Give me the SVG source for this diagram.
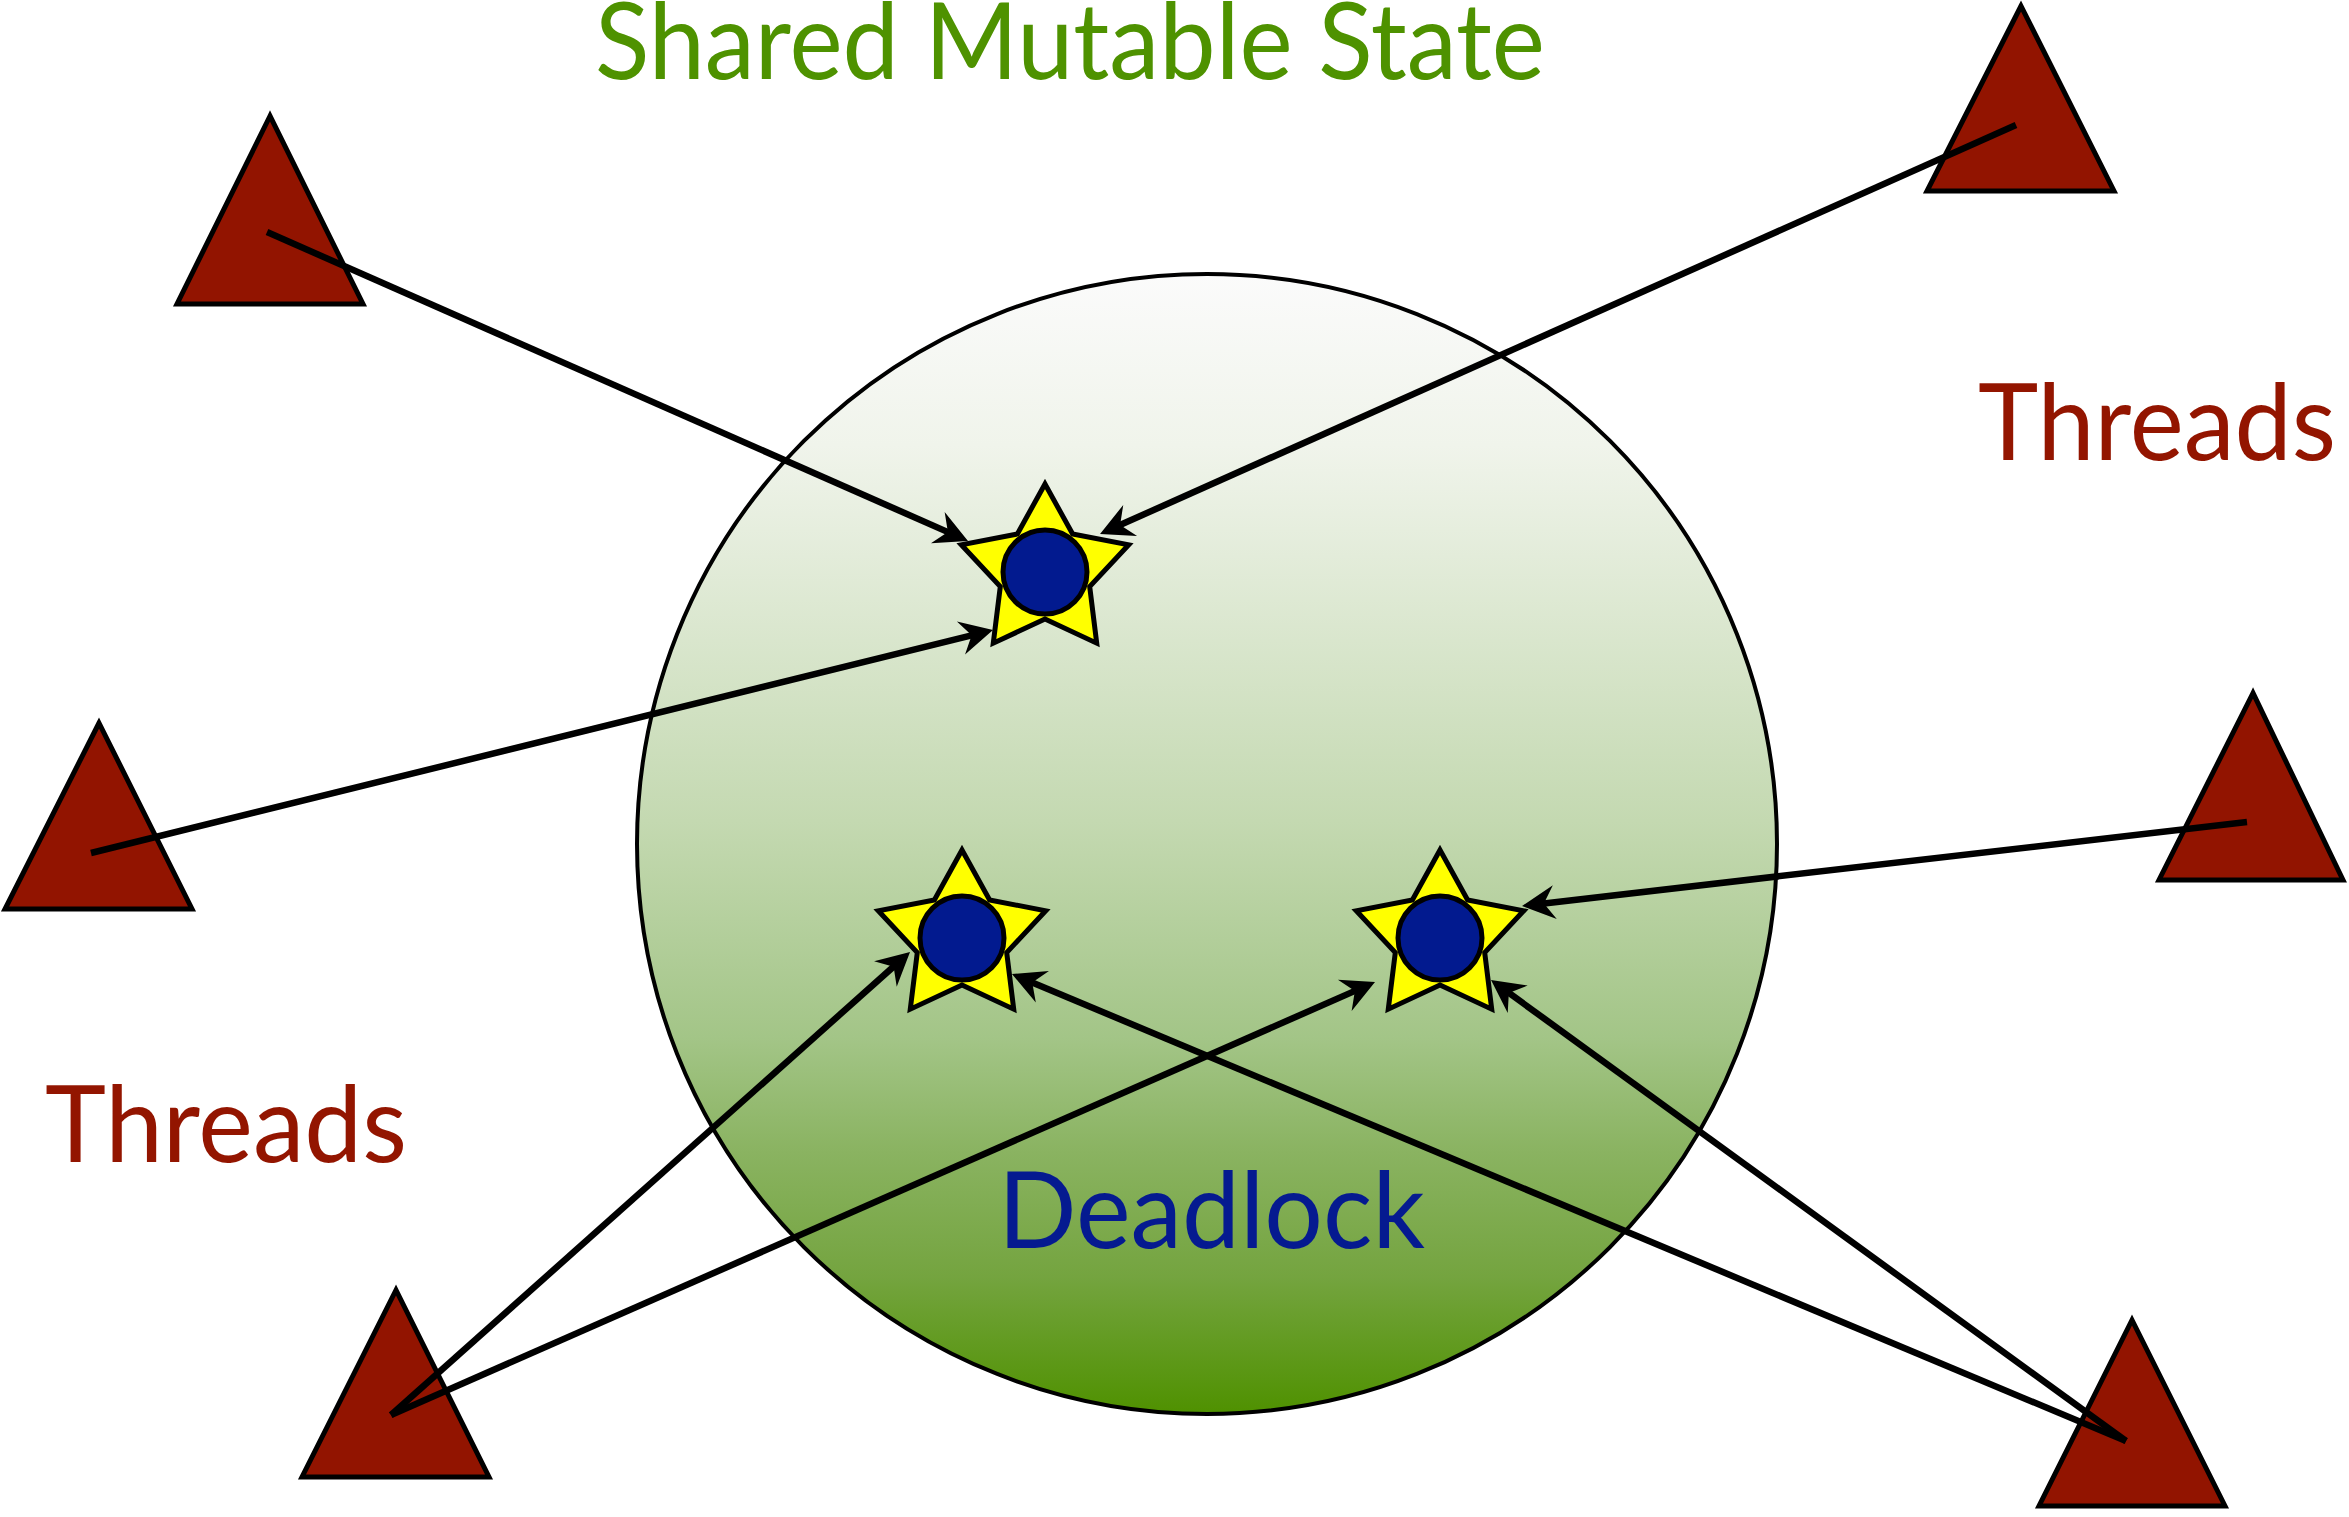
<svg xmlns="http://www.w3.org/2000/svg" width="2349" height="1517" viewBox="0 0 2349 1517">
  <style>
    .thread { fill: #921400; stroke: #000; stroke-width: 5; stroke-linejoin: miter; }
    .star { fill: #ffff00; stroke: #000; stroke-width: 5; stroke-linejoin: miter; }
    .lock { fill: #021a8f; stroke: #000; stroke-width: 5; }
    .edge { fill: none; stroke: #000; stroke-width: 6.5; stroke-linecap: butt; marker-end: url(#head); }
    .label { font-family: Lato, "Liberation Sans", sans-serif; font-size: 106px; }
  </style>
  <defs>
    <linearGradient id="stateFill" gradientUnits="userSpaceOnUse" x1="0" y1="274" x2="0" y2="1414">
      <stop offset="0" stop-color="#fbfbfb"/>
      <stop offset="0.15" stop-color="#f0f4eb"/>
      <stop offset="0.48" stop-color="#c4d9b1"/>
      <stop offset="0.67" stop-color="#a3c587"/>
      <stop offset="0.77" stop-color="#8ab361"/>
      <stop offset="0.88" stop-color="#74a43f"/>
      <stop offset="1" stop-color="#4f9100"/>
    </linearGradient>
    <marker id="head" markerUnits="userSpaceOnUse" markerWidth="40" markerHeight="40" viewBox="-20 -20 40 40" refX="0" refY="0" orient="auto">
      <path d="M20,0 L-13,-17 L-2,0 L-13,17 Z" fill="#000"/>
    </marker>
    <path id="starShape" d="M0,-88 L27.63,-38.02 L83.69,-27.19 L44.70,14.52 L51.72,71.19 L0,47 L-51.72,71.19 L-44.70,14.52 L-83.69,-27.19 L-27.63,-38.02 Z"/>
  </defs>

  <rect width="2349" height="1517" fill="#fff"/>

  <!-- shared mutable state region -->
  <g id="state">
    <circle cx="1207" cy="844" r="570" fill="url(#stateFill)" stroke="#000" stroke-width="4"/>
  </g>

  <!-- thread triangles -->
  <g id="thread-top-left"><polygon class="thread" points="270,116 177,304 363,304"/></g>
  <g id="thread-top-right"><polygon class="thread" points="2021,6 1927,191 2114,191"/></g>
  <g id="thread-mid-left"><polygon class="thread" points="99,723 5,909 192,909"/></g>
  <g id="thread-mid-right"><polygon class="thread" points="2253,693 2159,880 2343,880"/></g>
  <g id="thread-bottom-left"><polygon class="thread" points="396,1290 302,1477 489,1477"/></g>
  <g id="thread-bottom-right"><polygon class="thread" points="2132,1320 2039,1506 2225,1506"/></g>

  <!-- locked resources -->
  <g id="lock-top">
    <use href="#starShape" class="star" transform="translate(1045,572)"/>
    <circle class="lock" cx="1045" cy="572" r="42"/>
  </g>
  <g id="lock-left">
    <use href="#starShape" class="star" transform="translate(962,938)"/>
    <circle class="lock" cx="962" cy="938" r="42"/>
  </g>
  <g id="lock-right">
    <use href="#starShape" class="star" transform="translate(1440,938)"/>
    <circle class="lock" cx="1440" cy="938" r="42"/>
  </g>

  <!-- connectors -->
  <g id="connectors">
    <line class="edge" x1="267" y1="232" x2="949.7" y2="532.9"/>
    <line class="edge" x1="2016" y1="125" x2="1118.3" y2="525.8"/>
    <line class="edge" x1="91" y1="853" x2="973.6" y2="634.8"/>
    <line class="edge" x1="391" y1="1415" x2="895.1" y2="965.3"/>
    <line class="edge" x1="391" y1="1415" x2="1356.7" y2="990.1"/>
    <line class="edge" x1="2126" y1="1441" x2="1030.4" y2="981.7"/>
    <line class="edge" x1="2126" y1="1441" x2="1507.2" y2="991.7"/>
    <line class="edge" x1="2247" y1="822" x2="1541.9" y2="903.7"/>
  </g>

  <!-- labels -->
  <g id="labels">
    <text class="label" x="595" y="79" fill="#4e9200" font-size="100" textLength="950" lengthAdjust="spacingAndGlyphs">Shared Mutable State</text>
    <text class="label" x="1978" y="460" fill="#931500" font-size="101" textLength="358" lengthAdjust="spacingAndGlyphs">Threads</text>
    <text class="label" x="45" y="1162" fill="#931500" textLength="362" lengthAdjust="spacingAndGlyphs">Threads</text>
    <text class="label" x="998" y="1248" fill="#051a90" textLength="427" lengthAdjust="spacingAndGlyphs">Deadlock</text>
  </g>
</svg>
